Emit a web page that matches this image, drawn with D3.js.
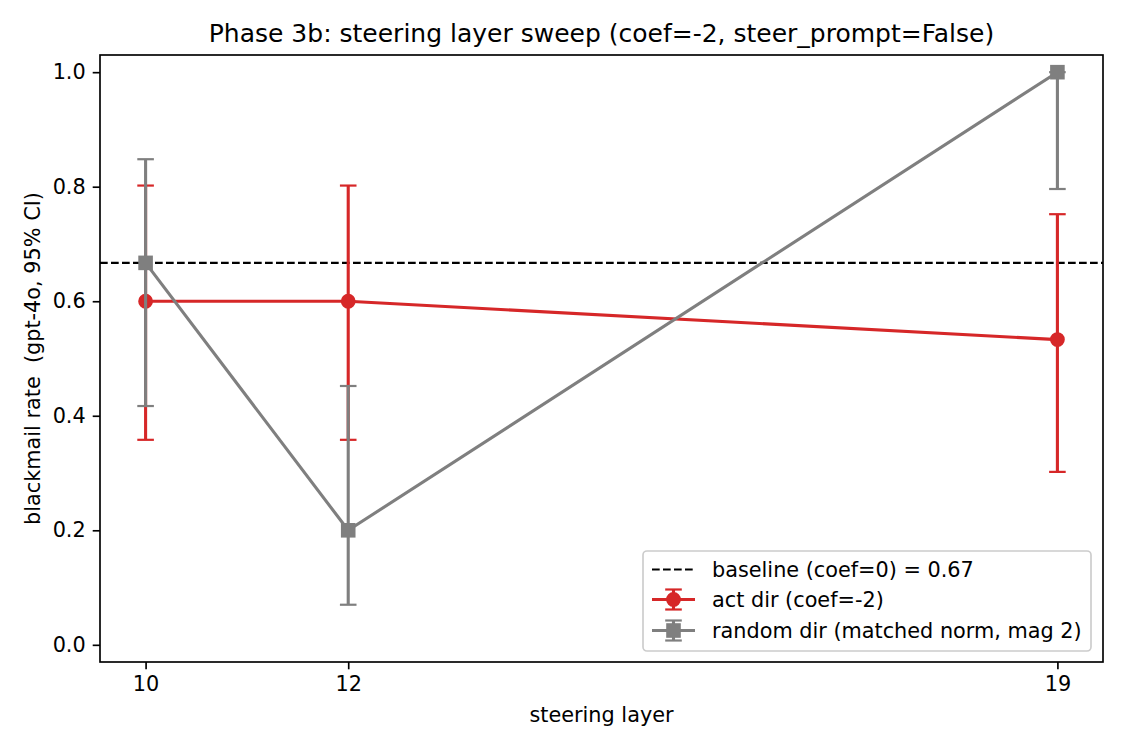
<!DOCTYPE html>
<html>
<head>
<meta charset="utf-8">
<script src="https://cdn.jsdelivr.net/npm/d3@7"></script>
<style>
  body { margin: 0; background: #fff; }
  text { font-family: "DejaVu Sans", sans-serif; fill: #000; }
</style>
</head>
<body>
<div id="chart"></div>
<script>
// steering layers on the x axis
var layers = [10, 12, 19];
var xTicks = [10, 12, 19];
var yTicks = [0.0, 0.2, 0.4, 0.6, 0.8, 1.0];

// act dir (coef=-2): rate and 95% CI bounds
var actRate = [0.600, 0.600, 0.533];
var actLow = [0.358, 0.358, 0.302];
var actHigh = [0.802, 0.802, 0.752];

// random dir (matched norm, mag 2)
var randRate = [0.667, 0.200, 1.000];
var randLow = [0.417, 0.070, 0.796];
var randHigh = [0.848, 0.452, 1.000];

var baseline = 0.667;

var seriesNames = ["baseline (coef=0) = 0.67", "act dir (coef=-2)", "random dir (matched norm, mag 2)"];

var attrs = {
    width: 1125,
    height: 750,
    margin: { top: 55, right: 22, bottom: 88, left: 100 },
    red: "#d62728",
    gray: "#7f7f7f",
    lineWidth: 3.1,
    capHalf: 8.3,
    markerR: 7.4
};
var _drawWidth = attrs.width - attrs.margin.left - attrs.margin.right;
var _drawHeight = attrs.height - attrs.margin.top - attrs.margin.bottom;

var svg = d3.select("#chart").append("svg")
    .attr("width", attrs.width)
    .attr("height", attrs.height);

var g = svg.append("g")
    .attr("transform", "translate(" + attrs.margin.left + "," + attrs.margin.top + ")");

var x = d3.scaleLinear().domain([9.55, 19.45]).range([0, _drawWidth]);
var y = d3.scaleLinear().domain([-0.03, 1.03]).range([_drawHeight, 0]);

// axes
var xAxis = g.append("g")
    .attr("transform", "translate(0," + _drawHeight + ")")
    .call(d3.axisBottom(x).tickValues(xTicks).tickFormat(d3.format("d")).tickSizeInner(7.3).tickSizeOuter(0).tickPadding(7));
var yAxis = g.append("g")
    .call(d3.axisLeft(y).tickValues(yTicks).tickFormat(d3.format(".1f")).tickSizeInner(7.3).tickSizeOuter(0).tickPadding(7));
[xAxis, yAxis].forEach(function(a){
    a.select(".domain").remove();
    a.selectAll("line").attr("stroke", "#000").attr("stroke-width", 1.67);
    a.selectAll("text").style("font-size", "20.8px").style("font-family", "DejaVu Sans, sans-serif").attr("fill", "#000");
});

// baseline
g.append("line")
    .attr("x1", 0).attr("x2", _drawWidth)
    .attr("y1", y(baseline)).attr("y2", y(baseline))
    .attr("stroke", "#000")
    .attr("stroke-width", 2.08)
    .attr("stroke-dasharray", "7.7,3.3");

function drawSeries(rate, low, high, color, shape){
    var s = g.append("g");
    // error bars
    s.selectAll(".bar").data(layers).enter().append("line")
        .attr("x1", function(d){ return x(d); })
        .attr("x2", function(d){ return x(d); })
        .attr("y1", function(d, i){ return y(low[i]); })
        .attr("y2", function(d, i){ return y(high[i]); })
        .attr("stroke", color)
        .attr("stroke-width", attrs.lineWidth);
    var caps = [];
    layers.forEach(function(d, i){ caps.push([d, low[i]]); caps.push([d, high[i]]); });
    s.selectAll(".cap").data(caps).enter().append("line")
        .attr("x1", function(d){ return x(d[0]) - attrs.capHalf; })
        .attr("x2", function(d){ return x(d[0]) + attrs.capHalf; })
        .attr("y1", function(d){ return y(d[1]); })
        .attr("y2", function(d){ return y(d[1]); })
        .attr("stroke", color)
        .attr("stroke-width", 2.2);
    // connecting line
    var line = d3.line()
        .x(function(d){ return x(d); })
        .y(function(d, i){ return y(rate[i]); });
    s.append("path")
        .datum(layers)
        .attr("d", line)
        .attr("fill", "none")
        .attr("stroke", color)
        .attr("stroke-width", attrs.lineWidth)
        .attr("stroke-linejoin", "round");
    // markers
    s.selectAll(".pt").data(layers).enter().append("path")
        .attr("transform", function(d, i){ return "translate(" + x(d) + "," + y(rate[i]) + ")"; })
        .attr("d", shape)
        .attr("fill", color);
}

var circlePath = d3.symbol().type(d3.symbolCircle).size(Math.PI * attrs.markerR * attrs.markerR)();
var squarePath = d3.symbol().type(d3.symbolSquare).size(14.6 * 14.6)();

drawSeries(actRate, actLow, actHigh, attrs.red, circlePath);
drawSeries(randRate, randLow, randHigh, attrs.gray, squarePath);

// frame
g.append("rect")
    .attr("width", _drawWidth)
    .attr("height", _drawHeight)
    .attr("fill", "none")
    .attr("stroke", "#000")
    .attr("stroke-width", 1.67);

// title and labels
svg.append("text")
    .attr("x", attrs.margin.left + _drawWidth / 2)
    .attr("y", 42)
    .attr("text-anchor", "middle")
    .style("font-size", "25px")
    .text("Phase 3b: steering layer sweep (coef=-2, steer_prompt=False)");

svg.append("text")
    .attr("x", attrs.margin.left + _drawWidth / 2)
    .attr("y", 722)
    .attr("text-anchor", "middle")
    .style("font-size", "20.8px")
    .text("steering layer");

svg.append("text")
    .attr("transform", "translate(40," + (attrs.margin.top + _drawHeight / 2) + ") rotate(-90)")
    .attr("text-anchor", "middle")
    .style("font-size", "20.8px")
    .style("white-space", "pre")
    .text("blackmail rate  (gpt-4o, 95% CI)");

// legend
var legend = svg.append("g").attr("transform", "translate(643,551)");
legend.append("rect")
    .attr("width", 448)
    .attr("height", 100)
    .attr("rx", 4)
    .attr("fill", "#fff")
    .attr("fill-opacity", 0.8)
    .attr("stroke", "#cccccc")
    .attr("stroke-width", 1.67);

var rowY = [18.5, 48.5, 79.5];
var hx0 = 9, hx1 = 52, hxm = 30.5;

legend.append("line")
    .attr("x1", hx0).attr("x2", hx1)
    .attr("y1", rowY[0]).attr("y2", rowY[0])
    .attr("stroke", "#000")
    .attr("stroke-width", 2.08)
    .attr("stroke-dasharray", "7.7,3.3");

[[attrs.red, circlePath], [attrs.gray, squarePath]].forEach(function(s, i){
    var ry = rowY[i + 1];
    var h = legend.append("g");
    h.append("line").attr("x1", hx0).attr("x2", hx1).attr("y1", ry).attr("y2", ry)
        .attr("stroke", s[0]).attr("stroke-width", attrs.lineWidth);
    h.append("line").attr("x1", hxm).attr("x2", hxm).attr("y1", ry - 10).attr("y2", ry + 10)
        .attr("stroke", s[0]).attr("stroke-width", attrs.lineWidth);
    [ry - 10, ry + 10].forEach(function(cy){
        h.append("line").attr("x1", hxm - 8.3).attr("x2", hxm + 8.3).attr("y1", cy).attr("y2", cy)
            .attr("stroke", s[0]).attr("stroke-width", 2.2);
    });
    h.append("path").attr("transform", "translate(" + hxm + "," + ry + ")")
        .attr("d", s[1]).attr("fill", s[0]);
});

legend.selectAll(".lt").data(seriesNames).enter().append("text")
    .attr("x", 69)
    .attr("y", function(d, i){ return rowY[i] + 7.5; })
    .style("font-size", "20.8px")
    .text(function(d){ return d; });
</script>
</body>
</html>
